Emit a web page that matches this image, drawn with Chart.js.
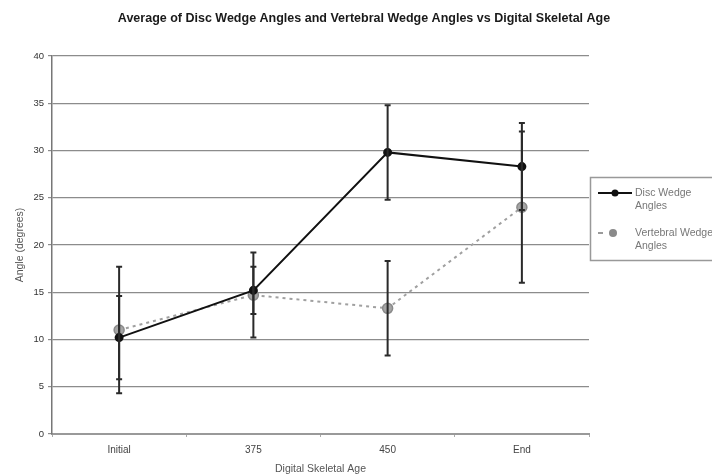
<!DOCTYPE html>
<html>
<head>
<meta charset="utf-8">
<script src="https://cdn.jsdelivr.net/npm/chart.js@4/dist/chart.umd.min.js"></script>
<style>
  html, body { margin: 0; padding: 0; background: #fff; }
  #wrap { width: 712px; height: 475px; position: relative; }
</style>
</head>
<body>
<div id="wrap"><canvas id="chart" width="712" height="475"></canvas></div>
<script>
const ages = ['Initial', '375', '450', 'End'];
const discMean = [10.2, 15.2, 29.8, 28.3];
const discErr = [4.4, 2.5, 5.0, 4.6];
const vertMean = [11.0, 14.7, 13.3, 24.0];
const vertErr = [6.7, 4.5, 5.0, 8.0];
const yTicks = [0, 5, 10, 15, 20, 25, 30, 35, 40];

const titleText = 'Average of Disc Wedge Angles and Vertebral Wedge Angles vs Digital Skeletal Age';
const FONT = '"Liberation Sans", Arial, sans-serif';

// error bars, drawn through the scales
const errorBars = {
  id: 'errorBars',
  afterDatasetsDraw(chart) {
    const ctx = chart.ctx;
    const x = chart.scales.x, y = chart.scales.y;
    const sets = [[discMean, discErr], [vertMean, vertErr]];
    ctx.save();
    ctx.strokeStyle = '#2a2a2a';
    ctx.lineWidth = 2;
    sets.forEach(([m, e]) => {
      m.forEach((v, i) => {
        const px = x.getPixelForValue(i);
        const top = y.getPixelForValue(v + e[i]);
        const bot = y.getPixelForValue(v - e[i]);
        ctx.beginPath();
        ctx.moveTo(px, top); ctx.lineTo(px, bot);
        ctx.moveTo(px - 3, top); ctx.lineTo(px + 3, top);
        ctx.moveTo(px - 3, bot); ctx.lineTo(px + 3, bot);
        ctx.stroke();
      });
    });
    ctx.restore();
  }
};

// title and boxed legend
const extras = {
  id: 'extras',
  afterDraw(chart) {
    const ctx = chart.ctx;
    ctx.save();
    ctx.fillStyle = '#1a1a1a';
    ctx.font = 'bold 12.5px ' + FONT;
    ctx.textAlign = 'center';
    ctx.textBaseline = 'middle';
    ctx.fillText(titleText, 364, 19);

    // legend box
    ctx.strokeStyle = '#999';
    ctx.lineWidth = 1.5;
    ctx.strokeRect(590.5, 177.5, 130, 83);
    ctx.font = '10.5px ' + FONT;
    ctx.textAlign = 'left';

    ctx.strokeStyle = '#111';
    ctx.lineWidth = 2;
    ctx.beginPath(); ctx.moveTo(598, 193); ctx.lineTo(632, 193); ctx.stroke();
    ctx.fillStyle = '#111';
    ctx.beginPath(); ctx.arc(615, 193, 3.5, 0, Math.PI * 2); ctx.fill();
    ctx.fillStyle = '#777';
    ctx.fillText('Disc Wedge', 635, 193);
    ctx.fillText('Angles', 635, 206);

    ctx.strokeStyle = '#9a9a9a';
    ctx.beginPath(); ctx.moveTo(598, 233); ctx.lineTo(603, 233); ctx.stroke();
    ctx.fillStyle = '#8a8a8a';
    ctx.beginPath(); ctx.arc(613, 233, 4, 0, Math.PI * 2); ctx.fill();
    ctx.fillStyle = '#777';
    ctx.fillText('Vertebral Wedge', 635, 233);
    ctx.fillText('Angles', 635, 246);
    ctx.restore();
  }
};

new Chart(document.getElementById('chart'), {
  type: 'line',
  data: {
    labels: ages,
    datasets: [
      {
        label: 'Disc Wedge Angles',
        data: discMean,
        borderColor: '#111',
        backgroundColor: '#111',
        borderWidth: 2,
        pointRadius: 3.5,
        pointStyle: 'circle',
        tension: 0
      },
      {
        label: 'Vertebral Wedge Angles',
        data: vertMean,
        borderColor: '#a0a0a0',
        backgroundColor: '#a5a5a5',
        borderWidth: 2,
        borderDash: [3, 4],
        pointRadius: 5,
        pointStyle: 'circle',
        pointBorderColor: '#8a8a8a',
        pointBorderWidth: 1.5,
        tension: 0
      }
    ]
  },
  options: {
    responsive: false,
    animation: false,
    layout: { padding: { top: 56, right: 123, left: 0, bottom: 0 } },
    plugins: {
      legend: { display: false },
      tooltip: { enabled: false },
      title: { display: false }
    },
    scales: {
      x: {
        offset: true,
        grid: { display: true, offset: true, drawOnChartArea: false, color: '#aaa', tickLength: 3 },
        border: { color: '#999', width: 2 },
        ticks: { color: '#444', font: { size: 10, family: FONT }, padding: 7 },
        title: { display: true, text: 'Digital Skeletal Age', color: '#555', font: { size: 10.5, family: FONT }, padding: { top: 2, bottom: 0 } },
        afterFit(s) { s.height = 41; }
      },
      y: {
        min: 0,
        max: 40,
        afterBuildTicks(s) { s.ticks = yTicks.map(v => ({ value: v })); },
        grid: { color: '#8c8c8c', lineWidth: 1.2, tickLength: 4 },
        border: { color: '#777', width: 1.5 },
        ticks: { color: '#333', font: { size: 9.5, family: FONT }, padding: 4 },
        title: { display: true, text: 'Angle (degrees)', color: '#555', font: { size: 10.5, family: FONT }, padding: { top: 14, bottom: 0 } },
        afterFit(s) { s.width = 52; }
      }
    }
  },
  plugins: [errorBars, extras]
});
</script>
</body>
</html>
